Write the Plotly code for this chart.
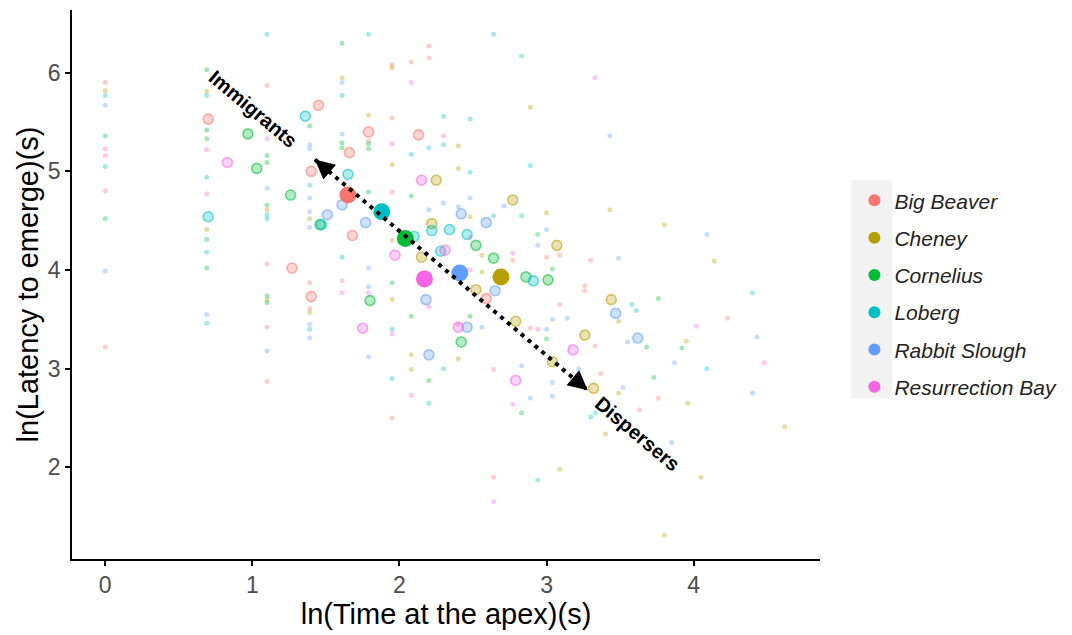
import plotly.graph_objects as go

# Populations, in legend order, with their colours
POPULATIONS = ["Big Beaver", "Cheney", "Cornelius", "Loberg", "Rabbit Slough", "Resurrection Bay"]
COLOURS = ["#F8766D", "#B79F00", "#00BA38", "#00BFC4", "#619CFF", "#F564E3"]

# Individual trials: (ln time at apex, ln latency to emerge)
OBS_BIG_BEAVER = [
    (0, 5.90), (0, 5.16), (0, 4.80), (0, 3.22), (1.10, 5.87), (1.10, 4.06), (1.10, 3.42),
    (1.10, 2.87), (1.39, 3.87), (1.39, 3.61), (1.61, 3.89), (1.79, 5.31), (1.95, 6.08),
    (1.95, 5.54), (1.95, 4.79), (1.95, 2.50), (2.08, 6.11), (2.20, 6.27), (2.20, 6.15),
    (2.30, 5.36), (2.40, 3.45), (2.64, 2.99), (2.64, 1.90), (2.77, 4.10), (2.89, 3.41),
    (3.00, 4.13), (3.09, 4.15), (3.09, 3.65), (3.26, 3.84), (3.26, 3.79), (3.30, 4.10),
    (3.33, 3.23), (3.37, 2.95), (3.63, 2.58), (3.76, 2.70), (4.23, 3.51),
]
OBS_CHENEY = [
    (0, 5.82), (0.69, 5.81), (0.69, 4.41), (1.10, 4.61), (1.10, 3.70), (1.39, 4.52),
    (1.39, 3.57), (1.61, 5.95), (1.79, 5.57), (1.95, 6.05), (1.95, 5.07), (1.95, 4.30),
    (1.95, 3.70), (2.08, 3.14), (2.08, 2.99), (2.40, 5.26), (2.40, 5.03), (2.40, 3.10),
    (2.48, 4.54), (2.56, 4.15), (2.56, 3.98), (2.89, 5.65), (3.00, 4.58), (3.09, 1.98),
    (3.40, 2.34), (3.43, 4.61), (3.49, 3.48), (3.49, 2.75), (3.80, 1.31), (3.80, 4.46),
    (3.95, 3.28), (3.96, 2.65), (4.05, 1.90), (4.14, 4.09), (4.62, 2.41),
]
OBS_CORNELIUS = [
    (0, 5.36), (0, 4.52), (0.69, 6.03), (0.69, 5.42), (0.69, 5.33), (0.69, 4.31),
    (0.69, 4.02), (1.10, 5.16), (1.10, 5.09), (1.10, 4.66), (1.10, 3.74), (1.10, 3.67),
    (1.39, 5.46), (1.61, 6.30), (1.61, 5.29), (1.61, 5.24), (1.79, 5.28), (1.79, 5.23),
    (1.79, 4.79), (1.95, 3.87), (2.08, 4.75), (2.08, 3.53), (2.20, 2.88), (2.48, 3.53),
    (2.83, 2.55), (2.94, 4.36), (3.00, 3.30), (3.04, 4.01), (3.68, 3.22), (3.73, 2.91),
    (3.76, 3.71), (3.92, 3.21),
]
OBS_LOBERG = [
    (0, 5.77), (0, 5.05), (0.69, 5.77), (0.69, 4.94), (0.69, 4.18), (0.69, 3.46),
    (1.10, 6.39), (1.10, 4.56), (1.10, 4.52), (1.39, 4.86), (1.39, 3.40), (1.61, 5.77),
    (1.61, 4.13), (1.79, 6.39), (1.95, 3.40), (1.95, 2.90), (2.08, 5.17), (2.20, 5.24),
    (2.20, 2.65), (2.30, 5.56), (2.30, 5.27), (2.30, 3.00), (2.48, 5.53), (2.48, 4.99),
    (2.64, 6.39), (2.64, 4.55), (2.83, 6.17), (2.83, 4.55), (2.89, 5.06), (2.94, 1.87),
    (3.30, 2.51), (3.33, 2.55), (3.58, 3.65), (3.61, 3.59), (4.09, 3.00), (4.40, 3.77),
]
OBS_RABBIT_SLOUGH = [
    (0, 5.67), (0, 3.99), (0.69, 3.55), (1.10, 4.83), (1.10, 3.18), (1.39, 5.27),
    (1.39, 5.23), (1.39, 4.73), (1.39, 4.59), (1.39, 4.43), (1.39, 3.45), (1.39, 3.31),
    (1.61, 5.90), (1.61, 5.38), (1.79, 4.02), (1.79, 3.83), (1.79, 3.12), (2.20, 4.61),
    (2.30, 4.68), (2.40, 4.64), (2.48, 4.73), (2.56, 3.42), (2.71, 4.65), (2.83, 3.03),
    (2.89, 2.70), (2.94, 4.25), (3.00, 4.41), (3.00, 3.40), (3.04, 3.50), (3.04, 2.86),
    (3.04, 2.72), (3.14, 3.51), (3.22, 3.00), (3.43, 5.36), (3.49, 4.12), (3.52, 2.81),
    (3.55, 3.27), (3.85, 2.25), (3.87, 3.06), (4.09, 4.36), (4.40, 2.75), (4.43, 3.32),
]
OBS_RESURRECTION_BAY = [
    (0, 5.23), (0.69, 5.22), (0.69, 4.77), (1.10, 5.33), (1.61, 3.77), (1.79, 3.77),
    (1.95, 5.28), (1.95, 3.35), (2.08, 5.90), (2.08, 2.73), (2.20, 3.63), (2.48, 4.33),
    (2.48, 4.00), (2.64, 1.65), (2.77, 4.17), (2.77, 2.64), (2.94, 3.40), (3.33, 5.95),
    (4.02, 3.43), (4.48, 3.06),
]

# Per-family averages
FAM_BIG_BEAVER = [(0.70, 5.53), (1.45, 5.67), (1.79, 5.40), (2.13, 5.37), (1.66, 5.19),
                  (1.40, 5.00), (1.68, 4.35), (1.27, 4.02), (1.40, 3.73), (2.59, 3.71)]
FAM_CHENEY = [(2.25, 4.91), (2.77, 4.71), (2.22, 4.47), (3.07, 4.25), (2.15, 4.13), (2.52, 3.80),
              (3.44, 3.70), (2.79, 3.48), (3.26, 3.34), (3.32, 2.80), (3.04, 3.07)]
FAM_CORNELIUS = [(0.97, 5.38), (1.03, 5.03), (1.26, 4.76), (1.46, 4.46), (2.52, 4.25),
                 (2.64, 4.12), (2.86, 3.93), (3.01, 3.90), (1.80, 3.69), (2.42, 3.27)]
FAM_LOBERG = [(0.70, 4.54), (1.36, 5.56), (1.65, 4.97), (1.47, 4.46), (2.10, 4.34), (2.22, 4.40),
              (2.34, 4.41), (2.46, 4.36), (2.28, 4.19), (2.91, 3.89)]
FAM_RABBIT_SLOUGH = [(1.51, 4.56), (1.77, 4.48), (1.61, 4.66), (2.42, 4.57), (2.59, 4.48),
                     (2.65, 3.79), (2.18, 3.70), (2.46, 3.42), (2.20, 3.14), (3.47, 3.56), (3.62, 3.31)]
FAM_RESURRECTION_BAY = [(0.83, 5.09), (2.15, 4.91), (1.97, 4.15), (2.31, 4.20), (1.75, 3.41),
                        (2.40, 3.42), (2.79, 2.88), (3.18, 3.19)]

# Population means
MEAN_X = [1.65, 2.69, 2.04, 1.88, 2.41, 2.17]
MEAN_Y = [4.76, 3.93, 4.32, 4.59, 3.97, 3.91]

# Migration axis drawn across the cloud
ARROW_START = (1.425, 5.12)   # immigrant end
ARROW_END = (3.28, 2.78)      # disperser end

X_TICKS = [0, 1, 2, 3, 4]
Y_TICKS = [2, 3, 4, 5, 6]

OBS = [OBS_BIG_BEAVER, OBS_CHENEY, OBS_CORNELIUS, OBS_LOBERG, OBS_RABBIT_SLOUGH, OBS_RESURRECTION_BAY]
FAMS = [FAM_BIG_BEAVER, FAM_CHENEY, FAM_CORNELIUS, FAM_LOBERG, FAM_RABBIT_SLOUGH, FAM_RESURRECTION_BAY]

FONT = "Liberation Sans, Arial, sans-serif"


def rgba(hex_colour, alpha):
    h = hex_colour.lstrip("#")
    r, g, b = int(h[0:2], 16), int(h[2:4], 16), int(h[4:6], 16)
    return f"rgba({r},{g},{b},{alpha})"


fig = go.Figure()

# faint individual points
for name, col, pts in zip(POPULATIONS, COLOURS, OBS):
    fig.add_trace(go.Scatter(
        x=[p[0] for p in pts], y=[p[1] for p in pts], mode="markers",
        marker=dict(size=5, color=rgba(col, 0.35), line=dict(width=0)),
        legendgroup=name, showlegend=False, hoverinfo="skip"))

# family averages: translucent rings
for name, col, pts in zip(POPULATIONS, COLOURS, FAMS):
    fig.add_trace(go.Scatter(
        x=[p[0] for p in pts], y=[p[1] for p in pts], mode="markers",
        marker=dict(size=10, color=rgba(col, 0.3), line=dict(width=1.6, color=rgba(col, 0.55))),
        legendgroup=name, showlegend=False, hoverinfo="skip"))

# population means (these carry the legend)
for i, (name, col) in enumerate(zip(POPULATIONS, COLOURS)):
    fig.add_trace(go.Scatter(
        x=[MEAN_X[i]], y=[MEAN_Y[i]], mode="markers", name=name,
        marker=dict(size=17, color=col, line=dict(width=0)),
        legendgroup=name))

# dotted double-headed arrow
fig.add_shape(type="line", xref="x", yref="y",
              x0=ARROW_START[0], y0=ARROW_START[1], x1=ARROW_END[0], y1=ARROW_END[1],
              line=dict(color="black", width=4, dash="4px,5px"))
for tip, sgn in ((ARROW_START, 1), (ARROW_END, -1)):
    fig.add_annotation(x=tip[0], y=tip[1], xref="x", yref="y", text="",
                       showarrow=True, arrowhead=2, arrowsize=1.5, arrowwidth=2.6,
                       arrowcolor="black", ax=sgn * 12, ay=sgn * 10.2, standoff=0)

fig.add_annotation(x=1.005, y=5.63, xref="x", yref="y", text="<b>Immigrants</b>",
                   showarrow=False, textangle=40, font=dict(family=FONT, size=20, color="black"))
fig.add_annotation(x=3.62, y=2.34, xref="x", yref="y", text="<b>Dispersers</b>",
                   showarrow=False, textangle=40, font=dict(family=FONT, size=20, color="black"))

# grey panel behind legend keys
fig.add_shape(type="rect", xref="paper", yref="paper", x0=1.0418, x1=1.0965, y0=0.2928, y1=0.6897,
              fillcolor="#F2F2F2", line=dict(width=0), layer="below")

axis_common = dict(showgrid=False, zeroline=False, showline=True, linecolor="black", linewidth=1.5,
                   ticks="outside", ticklen=5, tickwidth=1.5, tickcolor="black",
                   tickfont=dict(family=FONT, size=23, color="#4D4D4D"))

fig.update_layout(
    width=1072, height=635,
    margin=dict(l=72, r=251, t=10, b=71),
    paper_bgcolor="white", plot_bgcolor="white",
    font=dict(family=FONT),
    xaxis=dict(range=[-0.226, 4.859], tickvals=X_TICKS, ticktext=[str(v) for v in X_TICKS],
               title=dict(text="ln(Time at the apex)(s)", font=dict(family=FONT, size=29, color="black"),
                          standoff=6),
               **axis_common),
    yaxis=dict(range=[1.070, 6.636], tickvals=Y_TICKS, ticktext=[str(v) for v in Y_TICKS],
               title=dict(text="ln(Latency to emerge)(s)", font=dict(family=FONT, size=29, color="black"),
                          standoff=1),
               **axis_common),
    legend=dict(x=1.046, y=0.69, xanchor="left", yanchor="top", bgcolor="rgba(0,0,0,0)",
                font=dict(family=FONT, size=21, color="#222222", style="italic"),
                itemsizing="constant", tracegroupgap=7),
)

fig.write_html("out.html")
